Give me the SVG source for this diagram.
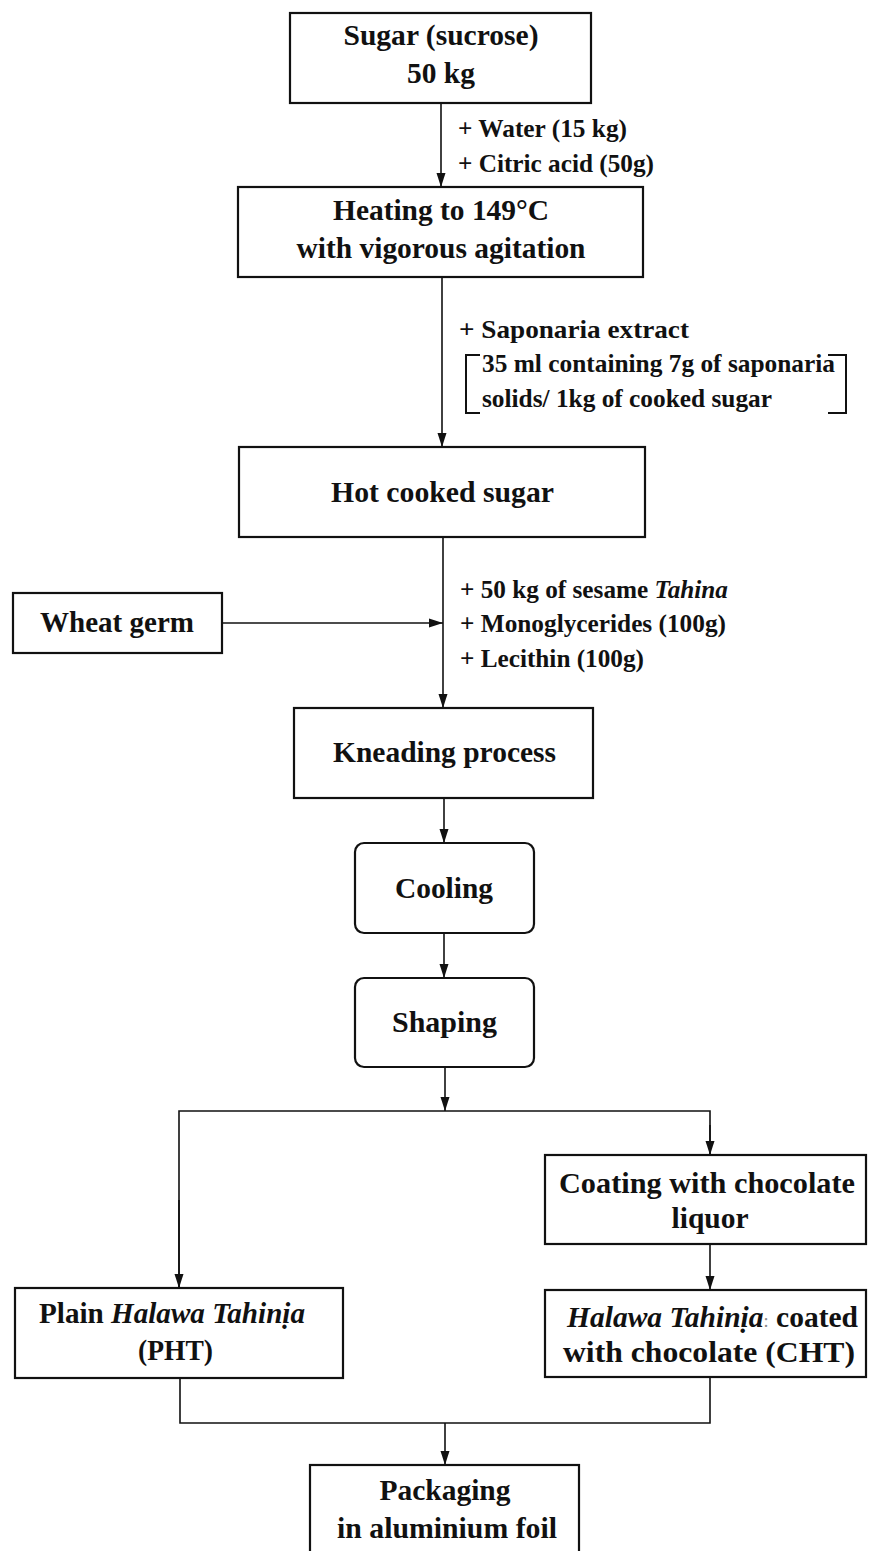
<svg xmlns="http://www.w3.org/2000/svg" width="869" height="1551" viewBox="0 0 869 1551">
<style>
.box{fill:#fff;stroke:#111;stroke-width:2.2}
.t{font-family:"Liberation Serif","Times New Roman",serif;font-weight:bold;font-size:29px;fill:#111;text-anchor:middle}
.l{font-family:"Liberation Serif","Times New Roman",serif;font-weight:bold;font-size:25px;fill:#111;text-anchor:start}
.c{fill:none;stroke:#111;stroke-width:1.6}
.br{fill:none;stroke:#111;stroke-width:2}
</style>
<defs>
<marker id="ah" markerUnits="userSpaceOnUse" markerWidth="14" markerHeight="10" refX="14" refY="5" orient="auto">
<path d="M0,0.5 L14,5 L0,9.5 z" fill="#111"/>
</marker>
</defs>
<rect width="869" height="1551" fill="#fff"/>
<g id="connectors">
<line class="c" x1="441" y1="103" x2="441" y2="187" marker-end="url(#ah)"/>
<line class="c" x1="442" y1="277" x2="442" y2="447" marker-end="url(#ah)"/>
<line class="c" x1="443" y1="537" x2="443" y2="708" marker-end="url(#ah)"/>
<line class="c" x1="222" y1="623" x2="443" y2="623" marker-end="url(#ah)"/>
<line class="c" x1="444" y1="798" x2="444" y2="843" marker-end="url(#ah)"/>
<line class="c" x1="444" y1="933" x2="444" y2="978" marker-end="url(#ah)"/>
<line class="c" x1="445" y1="1067" x2="445" y2="1111" marker-end="url(#ah)"/>
<path class="c" d="M179,1288 V1111 H710 V1155" stroke-width="2"/>
<line class="c" x1="179" y1="1200" x2="179" y2="1288" marker-end="url(#ah)"/>
<line class="c" x1="710" y1="1125" x2="710" y2="1155" marker-end="url(#ah)"/>
<line class="c" x1="710" y1="1244" x2="710" y2="1290" marker-end="url(#ah)"/>
<path class="c" d="M180,1378 V1423 H710 V1377" stroke-width="2"/>
<line class="c" x1="445" y1="1423" x2="445" y2="1465" marker-end="url(#ah)"/>
</g>
<g id="sugar">
<rect class="box" x="290" y="13" width="301" height="90"/>
<text class="t" x="441" y="45" textLength="195" lengthAdjust="spacingAndGlyphs">Sugar (sucrose)</text>
<text class="t" x="441" y="83" textLength="68" lengthAdjust="spacingAndGlyphs">50 kg</text>
</g>
<g id="label-water">
<text class="l" x="458" y="137" textLength="169" lengthAdjust="spacingAndGlyphs">+ Water (15 kg)</text>
<text class="l" x="458" y="172" textLength="196" lengthAdjust="spacingAndGlyphs">+ Citric acid (50g)</text>
</g>
<g id="heating">
<rect class="box" x="238" y="187" width="405" height="90"/>
<text class="t" x="441" y="220" textLength="216" lengthAdjust="spacingAndGlyphs">Heating to 149°C</text>
<text class="t" x="441" y="258" textLength="289" lengthAdjust="spacingAndGlyphs">with vigorous agitation</text>
</g>
<g id="label-saponaria">
<text class="l" x="459" y="338" textLength="230" lengthAdjust="spacingAndGlyphs">+ Saponaria extract</text>
<path class="br" d="M480,355 H466 V413 H480"/>
<path class="br" d="M828,355 H846 V413 H828"/>
<text class="l" x="482" y="372" textLength="353" lengthAdjust="spacingAndGlyphs">35 ml containing 7g of saponaria</text>
<text class="l" x="482" y="407" textLength="290" lengthAdjust="spacingAndGlyphs">solids/ 1kg of cooked sugar</text>
</g>
<g id="hot">
<rect class="box" x="239" y="447" width="406" height="90"/>
<text class="t" x="442.5" y="502" textLength="223" lengthAdjust="spacingAndGlyphs">Hot cooked sugar</text>
</g>
<g id="wheat">
<rect class="box" x="13" y="593" width="209" height="60"/>
<text class="t" x="117" y="632" textLength="154" lengthAdjust="spacingAndGlyphs">Wheat germ</text>
</g>
<g id="label-tahina">
<text class="l" x="460" y="598" textLength="268" lengthAdjust="spacingAndGlyphs">+ 50 kg of sesame <tspan font-style="italic">Tahina</tspan></text>
<text class="l" x="460" y="632" textLength="266" lengthAdjust="spacingAndGlyphs">+ Monoglycerides (100g)</text>
<text class="l" x="460" y="667" textLength="184" lengthAdjust="spacingAndGlyphs">+ Lecithin (100g)</text>
</g>
<g id="kneading">
<rect class="box" x="294" y="708" width="299" height="90"/>
<text class="t" x="444.5" y="762" textLength="223" lengthAdjust="spacingAndGlyphs">Kneading process</text>
</g>
<g id="cooling">
<rect class="box" x="355" y="843" width="179" height="90" rx="9"/>
<text class="t" x="444" y="898" textLength="98" lengthAdjust="spacingAndGlyphs">Cooling</text>
</g>
<g id="shaping">
<rect class="box" x="355" y="978" width="179" height="89" rx="9"/>
<text class="t" x="444.5" y="1032" textLength="105" lengthAdjust="spacingAndGlyphs">Shaping</text>
</g>
<g id="coating">
<rect class="box" x="545" y="1155" width="321" height="89"/>
<text class="t" x="707" y="1193" textLength="296" lengthAdjust="spacingAndGlyphs">Coating with chocolate</text>
<text class="t" x="710" y="1228" textLength="77" lengthAdjust="spacingAndGlyphs">liquor</text>
</g>
<g id="plain">
<rect class="box" x="15" y="1288" width="328" height="90"/>
<text class="t" x="39" y="1323" style="text-anchor:start" textLength="266" lengthAdjust="spacingAndGlyphs">Plain <tspan font-style="italic">Halawa Tahinịa</tspan></text>
<text class="t" x="175.5" y="1360" textLength="75" lengthAdjust="spacingAndGlyphs">(PHT)</text>
</g>
<g id="cht">
<rect class="box" x="545" y="1290" width="321" height="87"/>
<text class="t" x="567" y="1327" style="text-anchor:start" textLength="291" lengthAdjust="spacingAndGlyphs"><tspan font-style="italic">Halawa Tahinịa</tspan><tspan fill="#888" font-size="18px" font-weight="normal">:</tspan> coated</text>
<text class="t" x="563" y="1362" style="text-anchor:start" textLength="292" lengthAdjust="spacingAndGlyphs">with chocolate (CHT)</text>
</g>
<g id="packaging">
<rect class="box" x="310" y="1465" width="269" height="100"/>
<text class="t" x="445" y="1500" textLength="131" lengthAdjust="spacingAndGlyphs">Packaging</text>
<text class="t" x="447" y="1538" textLength="220" lengthAdjust="spacingAndGlyphs">in aluminium foil</text>
</g>
</svg>
